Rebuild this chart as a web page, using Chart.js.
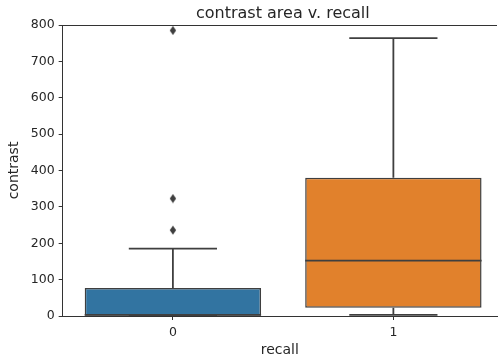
<!DOCTYPE html>
<html lang="en">
<head>
<meta charset="UTF-8">
<title>contrast area v. recall</title>
<script src="https://cdn.jsdelivr.net/npm/chart.js"></script>
<style>
    body { margin: 0; background: #fff; }
</style>
</head>
<body>
<canvas id="boxChart" width="502" height="360"></canvas>
<script>
    // values
    const categories = ["0", "1"];
    const whiskerLow = [0, 3];
    const q1 = [1, 23];
    const median = [3, 152];
    const q3 = [77, 380];
    const whiskerHigh = [185, 764];
    const outliers = [[236, 323, 785], []];
    const yTicks = [0, 100, 200, 300, 400, 500, 600, 700, 800];

    const boxColors = ["#3274a1", "#e1812c"];
    const edge = "#3f3f3f";
    const textColor = "#262626";

    // thin diamond marker like matplotlib's 'd'
    const diamond = document.createElement("canvas");
    diamond.width = 8; diamond.height = 10;
    const dctx = diamond.getContext("2d");
    dctx.fillStyle = edge;
    dctx.beginPath();
    dctx.moveTo(4, 0.5); dctx.lineTo(7.2, 5); dctx.lineTo(4, 9.5); dctx.lineTo(0.8, 5);
    dctx.closePath(); dctx.fill();

    const datasets = [];

    datasets.push({
        type: "bar",
        data: categories.map((c, i) => ({ x: i, y: [q1[i], q3[i]] })),
        backgroundColor: boxColors,
        borderColor: edge,
        borderWidth: 1.5,
        borderSkipped: false,
        barPercentage: 0.8,
        categoryPercentage: 1,
        order: 3
    });

    function segment(points) {
        datasets.push({
            type: "line",
            data: points,
            borderColor: edge,
            borderWidth: 1.8,
            pointRadius: 0,
            fill: false,
            order: 1
        });
    }

    categories.forEach((c, i) => {
        segment([{ x: i, y: q3[i] }, { x: i, y: whiskerHigh[i] }]);
        segment([{ x: i, y: q1[i] }, { x: i, y: whiskerLow[i] }]);
        segment([{ x: i - 0.2, y: whiskerHigh[i] }, { x: i + 0.2, y: whiskerHigh[i] }]);
        segment([{ x: i - 0.2, y: whiskerLow[i] }, { x: i + 0.2, y: whiskerLow[i] }]);
        segment([{ x: i - 0.4, y: median[i] }, { x: i + 0.4, y: median[i] }]);
        if (outliers[i].length) {
            datasets.push({
                type: "scatter",
                data: outliers[i].map(v => ({ x: i, y: v })),
                pointStyle: diamond,
                order: 0
            });
        }
    });

    // top spine and title centred over the plot area
    const frame = {
        id: "frame",
        afterDraw(chart) {
            const { ctx, chartArea } = chart;
            ctx.save();
            ctx.strokeStyle = "#333";
            ctx.lineWidth = 1;
            ctx.beginPath();
            ctx.moveTo(chartArea.left, chartArea.top + 0.5);
            ctx.lineTo(chartArea.right, chartArea.top + 0.5);
            ctx.stroke();
            ctx.fillStyle = textColor;
            ctx.font = "16px 'DejaVu Sans'";
            ctx.textAlign = "center";
            ctx.textBaseline = "alphabetic";
            ctx.fillText("contrast area v. recall", (chartArea.left + chartArea.right) / 2 + 3, chartArea.top - 7);
            ctx.restore();
        }
    };

    new Chart(document.getElementById("boxChart"), {
        data: { datasets: datasets },
        plugins: [frame],
        options: {
            responsive: false,
            animation: false,
            layout: { padding: { left: 6, top: 25, right: 0, bottom: 0 } },
            plugins: {
                legend: { display: false },
                tooltip: { enabled: false }
            },
            scales: {
                x: {
                    type: "linear",
                    offset: false,
                    min: -0.5,
                    max: 1.47,
                    afterBuildTicks: axis => { axis.ticks = categories.map((c, i) => ({ value: i })); },
                    ticks: {
                        callback: v => categories[v],
                        color: textColor,
                        font: { family: "DejaVu Sans", size: 12.5 },
                        padding: 5
                    },
                    grid: { offset: false, drawOnChartArea: false, tickLength: 4, color: "#333" },
                    border: { display: true, color: "#333", width: 1 },
                    title: {
                        display: true,
                        text: "recall",
                        color: textColor,
                        font: { family: "DejaVu Sans", size: 14, lineHeight: 1 },
                        padding: { top: -2, bottom: 3 }
                    }
                },
                y: {
                    min: 0,
                    max: 800,
                    afterBuildTicks: axis => { axis.ticks = yTicks.map(v => ({ value: v })); },
                    ticks: {
                        color: textColor,
                        font: { family: "DejaVu Sans", size: 12.5 },
                        padding: 4
                    },
                    grid: { drawOnChartArea: false, tickLength: 4, color: "#333" },
                    border: { display: true, color: "#333", width: 1 },
                    title: {
                        display: true,
                        text: "contrast",
                        color: textColor,
                        font: { family: "DejaVu Sans", size: 14 },
                        padding: { top: 0, bottom: 4 }
                    }
                }
            }
        }
    });
</script>
</body>
</html>
